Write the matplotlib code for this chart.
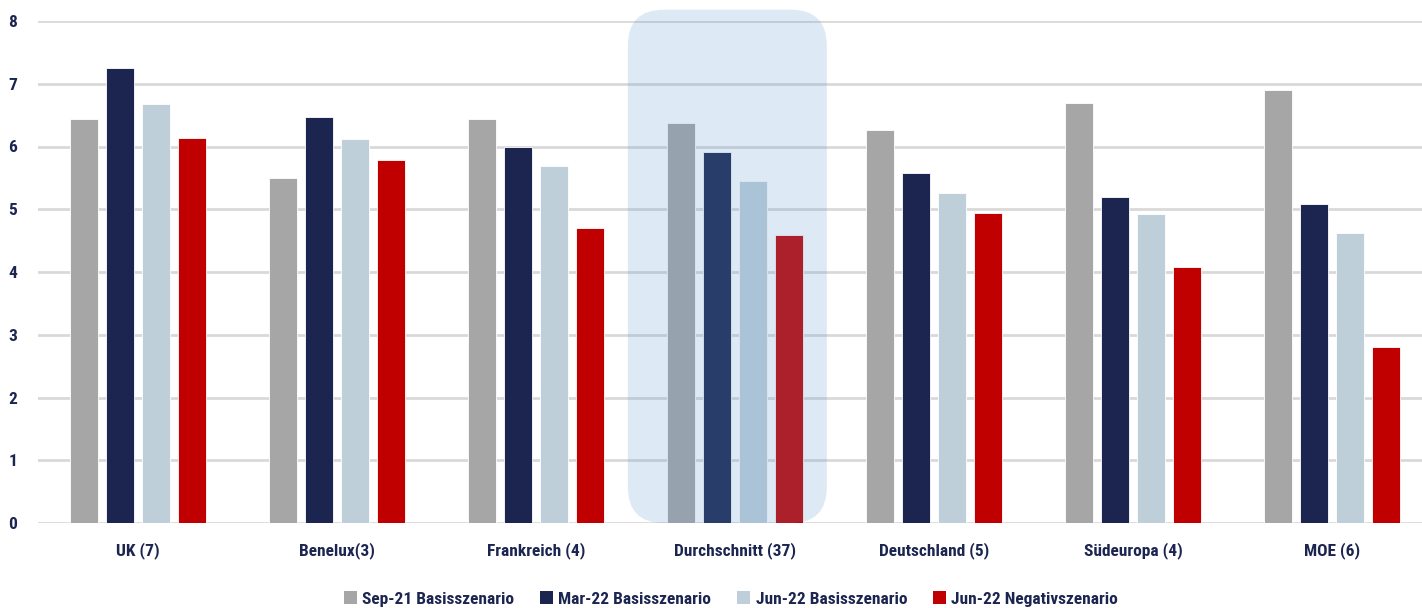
import matplotlib
matplotlib.use("Agg")
import matplotlib.pyplot as plt
import numpy as np
from matplotlib.patches import FancyBboxPatch, Patch
from matplotlib.transforms import IdentityTransform
from matplotlib import font_manager

categories = ["UK (7)", "Benelux(3)", "Frankreich (4)", "Durchschnitt (37)",
              "Deutschland (5)", "Südeuropa (4)", "MOE (6)"]
series_names = ["Sep-21 Basisszenario", "Mar-22 Basisszenario",
                "Jun-22 Basisszenario", "Jun-22 Negativszenario"]
sep21_basis = [6.44, 5.50, 6.44, 6.38, 6.26, 6.69, 6.90]
mar22_basis = [7.25, 6.47, 5.99, 5.92, 5.58, 5.20, 5.08]
jun22_basis = [6.68, 6.12, 5.69, 5.45, 5.26, 4.92, 4.62]
jun22_negativ = [6.14, 5.78, 4.70, 4.59, 4.94, 4.08, 2.80]
y_ticks = [0, 1, 2, 3, 4, 5, 6, 7, 8]

colors = ["#a6a6a6", "#1b2550", "#bfcfda", "#c00000"]
text_color = "#1b2550"

available = {f.name for f in font_manager.fontManager.ttflist}
fam = [f for f in ["Roboto Condensed", "Liberation Sans Narrow", "Roboto", "DejaVu Sans"]
       if f in available]
plt.rcParams["font.family"] = fam

W, H = 1422, 608
fig = plt.figure(figsize=(W / 100, H / 100), dpi=100)
ax = fig.add_axes([38 / W, 1 - 523 / H, (1432 - 38) / W, (523 - 21) / H])

x = np.arange(len(categories))
step = 0.1807
width = 0.1406
all_series = [sep21_basis, mar22_basis, jun22_basis, jun22_negativ]
for i, (vals, c, name) in enumerate(zip(all_series, colors, series_names)):
    ax.bar(x + (i - 1.5) * step, vals, width, color=c, label=name,
           edgecolor="white", linewidth=0.6, zorder=3)

ax.set_xlim(-0.5, len(categories) - 0.5)
ax.set_ylim(0, 8)
ax.set_yticks(y_ticks)
ax.set_xticks(x)
ax.set_xticklabels(categories)
for s in ax.spines.values():
    s.set_visible(False)
ax.grid(axis="y", color="#d9d9d9", linewidth=2, zorder=0)
ax.tick_params(axis="both", length=0, labelcolor=text_color, labelsize=12.5)
ax.tick_params(axis="x", pad=14)
ax.tick_params(axis="y", pad=15)
for lab in ax.get_xticklabels() + ax.get_yticklabels():
    lab.set_fontweight("bold")

# highlight overlay for the average group
(x0, y0) = ax.transData.transform((2.462, 0))
(x1, y1) = ax.transData.transform((3.461, 8.18))
hl = FancyBboxPatch((x0, y0), x1 - x0, y1 - y0,
                    boxstyle="round,pad=0,rounding_size=36",
                    transform=IdentityTransform(), facecolor=(95/255, 152/255, 205/255),
                    alpha=0.21, edgecolor="none", zorder=10, clip_on=False)
ax.add_patch(hl)

handles = [Patch(facecolor=c, edgecolor="none") for c in colors]
leg = fig.legend(handles, series_names, loc="center", bbox_to_anchor=(731 / W, 1 - 599 / H),
                 ncol=4, frameon=False, handlelength=0.75, handleheight=0.75,
                 handletextpad=0.3, columnspacing=1.5,
                 prop={"size": 12.5, "weight": "bold"})
for t in leg.get_texts():
    t.set_color(text_color)

fig.savefig("out.png", dpi=100)
